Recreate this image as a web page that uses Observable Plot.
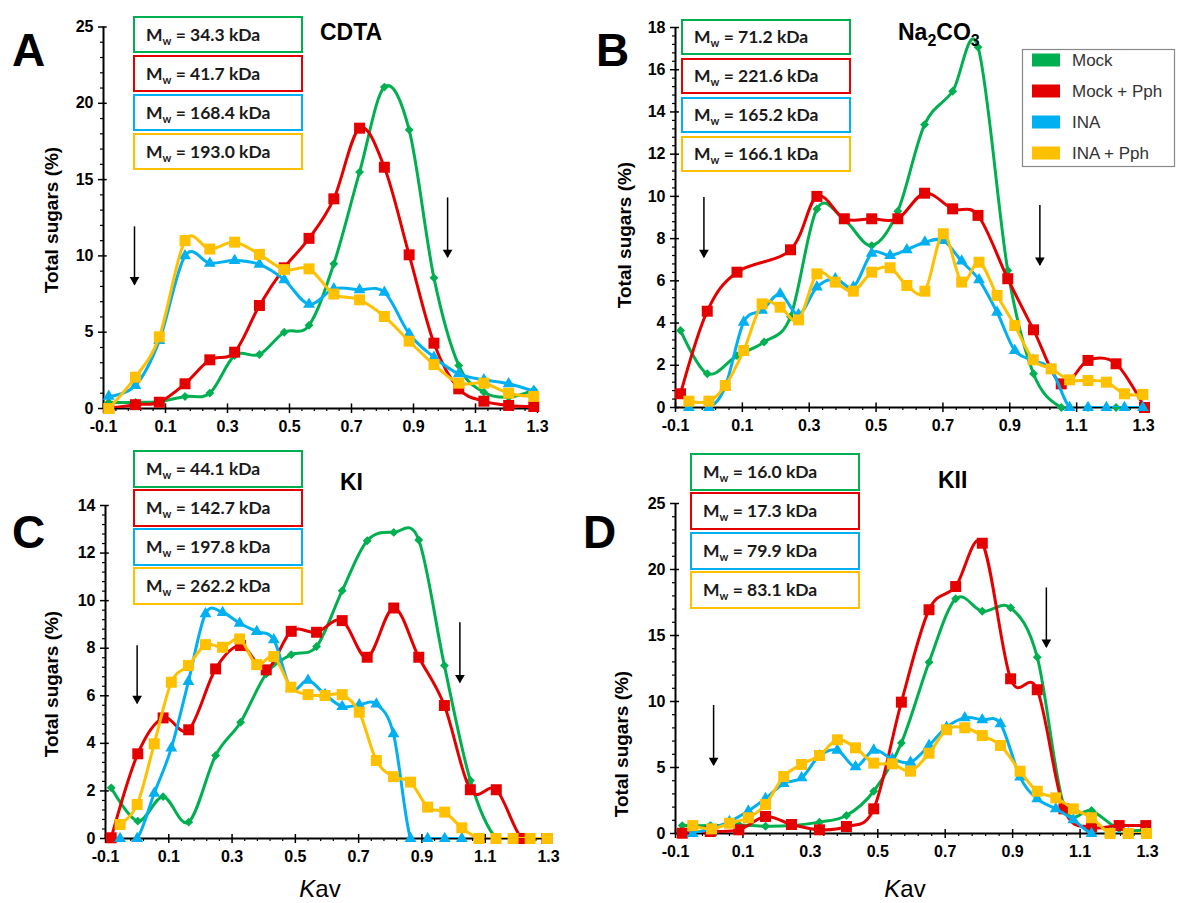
<!DOCTYPE html>
<html><head><meta charset="utf-8">
<script src="https://cdn.jsdelivr.net/npm/d3@7"></script>
<script src="https://cdn.jsdelivr.net/npm/@observablehq/plot@0.6"></script>
<style>
body{margin:0;background:#fff;}
#root{position:relative;width:1178px;height:903px;overflow:hidden;background:#fff;}
#root svg{position:absolute;overflow:visible;}
</style></head>
<body><div id="root"></div>
<script>
// ---------- data ----------
const seriesNames = ["Mock", "Mock + Pph", "INA", "INA + Pph"];
const colors = ["#00B050", "#E50000", "#00B0F0", "#FFC000"];
const xMajor = [-0.1, 0.1, 0.3, 0.5, 0.7, 0.9, 1.1, 1.3];

// Panel A (CDTA)
const aX = [-0.083, 0.003, 0.08, 0.163, 0.243, 0.323, 0.403, 0.483, 0.563, 0.643, 0.726, 0.806, 0.886, 0.966, 1.046, 1.127, 1.207, 1.288];
const aMock = [0.4, 0.4, 0.45, 0.79, 1.01, 3.47, 3.54, 5.0, 5.45, 9.48, 15.49, 21.06, 18.26, 8.56, 2.82, 1.07, 0.74, 1.22];
const aMockPph = [0, 0.25, 0.41, 1.62, 3.19, 3.69, 6.75, 9.22, 11.15, 13.74, 18.37, 15.81, 10.07, 4.28, 1.29, 0.48, 0.2, 0.13];
const aINA = [0.79, 1.5, 4.45, 10.0, 9.52, 9.7, 9.44, 8.43, 6.83, 7.84, 7.78, 7.62, 4.9, 3.36, 2.27, 1.88, 1.62, 1.13];
const aINAPph = [0, 2.05, 4.7, 11.0, 10.45, 10.9, 10.1, 9.1, 9.15, 7.5, 7.12, 6.03, 4.41, 2.88, 1.66, 1.66, 1.0, 0.79];
const aMw = ["34.3", "41.7", "168.4", "193.0"];
const aYTicks = [0, 5, 10, 15, 20, 25];

// Panel B (Na2CO3)
const bX1 = [-0.085, -0.005, 0.084, 0.165, 0.244, 0.323, 0.405, 0.487, 0.565, 0.645, 0.729, 0.805, 0.894, 0.971, 1.054, 1.134, 1.218, 1.303];
const bMock = [3.65, 1.6, 2.46, 3.1, 4.3, 9.4, 8.89, 7.67, 9.3, 13.4, 14.98, 17.07, 6.49, 1.6, 0, 0, 0, 0];
const bX2 = [-0.085, -0.005, 0.084, 0.244, 0.323, 0.405, 0.487, 0.565, 0.645, 0.729, 0.805, 0.894, 0.971, 1.054, 1.134, 1.218, 1.303];
const bMockPph = [0.65, 4.56, 6.41, 7.47, 10.0, 8.94, 8.94, 8.94, 10.15, 9.41, 9.1, 6.1, 3.68, 1.12, 2.23, 2.07, 0];
const bX3 = [-0.06, 0.0, 0.049, 0.104, 0.159, 0.213, 0.268, 0.323, 0.378, 0.432, 0.487, 0.542, 0.592, 0.646, 0.701, 0.756, 0.808, 0.862, 0.915, 0.97, 1.024, 1.079, 1.134, 1.189, 1.243, 1.298];
const bINA = [0, 0, 1.0, 4.04, 4.6, 5.38, 4.4, 5.7, 6.1, 5.7, 7.3, 7.2, 7.47, 7.83, 7.91, 6.93, 6.05, 4.51, 2.7, 2.23, 1.8, 0, 0, 0, 0, 0];
const bINAPph = [0.3, 0.3, 1.04, 2.7, 4.91, 4.75, 4.15, 6.33, 5.94, 5.51, 6.41, 6.62, 5.78, 5.51, 8.23, 5.94, 6.88, 5.31, 3.88, 2.26, 1.83, 1.31, 1.28, 1.2, 0.65, 0.62];
const bMw = ["71.2", "221.6", "165.2", "166.1"];
const bYTicks = [0, 2, 4, 6, 8, 10, 12, 14, 16, 18];

// Panel C (KI)
const cX1 = [-0.082, 0.002, 0.082, 0.163, 0.248, 0.327, 0.408, 0.487, 0.567, 0.648, 0.727, 0.811, 0.89, 0.971, 1.053, 1.135, 1.216, 1.295];
const cMock = [2.13, 0.73, 1.76, 0.69, 3.49, 4.89, 6.92, 7.73, 8.07, 10.42, 12.52, 12.87, 12.55, 7.27, 2.44, 0, 0, 0];
const cMockPph = [0.03, 3.56, 5.07, 4.57, 7.13, 8.11, 7.09, 8.71, 8.67, 9.16, 7.62, 9.69, 7.62, 5.59, 2.05, 2.05, 0, 0];
const cX2 = [-0.054, 0, 0.054, 0.108, 0.162, 0.216, 0.27, 0.324, 0.378, 0.432, 0.486, 0.54, 0.594, 0.648, 0.702, 0.756, 0.81, 0.864, 0.918, 0.972, 1.026, 1.08, 1.134, 1.188, 1.242, 1.296];
const cINA = [0, 0, 1.9, 3.8, 6.6, 9.45, 9.5, 9.05, 8.7, 8.35, 6.3, 6.65, 6.05, 5.55, 5.62, 5.65, 4.4, 0, 0, 0, 0];
const cINAPph = [0.59, 1.43, 3.98, 6.57, 7.27, 8.15, 8.04, 8.39, 7.31, 7.65, 6.36, 6.05, 6.01, 6.05, 5.31, 3.28, 2.6, 2.37, 1.32, 1.11, 0.45, 0, 0, 0, 0, 0];
const cMw = ["44.1", "142.7", "197.8", "262.2"];
const cYTicks = [0, 2, 4, 6, 8, 10, 12, 14];

// Panel D (KII)
const dX1 = [-0.08, 0.003, 0.088, 0.167, 0.244, 0.327, 0.407, 0.488, 0.57, 0.652, 0.731, 0.81, 0.894, 0.973, 1.052, 1.134, 1.216, 1.295];
const dMock = [0.6, 0.6, 0.65, 0.55, 0.6, 0.86, 1.36, 3.2, 6.86, 12.98, 17.78, 16.84, 17.1, 13.36, 2.12, 1.74, 0.35, 0.28];
const dMockPph = [0.02, 0.15, 0.28, 1.29, 0.68, 0.28, 0.53, 1.87, 9.95, 16.95, 18.71, 21.99, 11.72, 10.89, 1.87, 0.48, 0.6, 0.6];
const dX2 = [-0.049, 0.007, 0.06, 0.116, 0.167, 0.221, 0.274, 0.327, 0.38, 0.434, 0.488, 0.543, 0.597, 0.652, 0.704, 0.758, 0.81, 0.864, 0.922, 0.973, 1.028, 1.08, 1.134, 1.189, 1.243, 1.297];
const dINA = [0, 0.4, 0.9, 1.7, 2.65, 3.79, 4.22, 5.89, 6.31, 5.05, 6.31, 5.66, 5.4, 6.67, 8.05, 8.76, 8.61, 8.31, 4.27, 2.63, 1.87, 1.04, 0, 0, 0, 0];
const dINAPph = [0.6, 0.35, 0.78, 1.19, 2.2, 4.32, 5.23, 5.91, 7.1, 6.49, 5.33, 5.28, 4.72, 6.08, 7.86, 8.01, 7.42, 6.67, 4.72, 3.2, 2.7, 1.87, 1.19, 0, 0, 0];
const dMw = ["16.0", "17.3", "79.9", "83.1"];
const dYTicks = [0, 5, 10, 15, 20, 25];

// V0 / Vt arrows (Kav, top value, tip value)
const aArrows = [{x: 0, y1: 11.9, y2: 8.1}, {x: 1.01, y1: 13.8, y2: 9.9}];
const bArrows = [{x: -0.015, y1: 9.95, y2: 7.1}, {x: 0.99, y1: 9.57, y2: 6.73}];
const cArrows = [{x: 0, y1: 8.1, y2: 5.67}, {x: 1.02, y1: 9.07, y2: 6.55}];
const dArrows = [{x: 0.013, y1: 9.7, y2: 5.15}, {x: 1.0, y1: 18.6, y2: 14.1}];

// ---------- drawing ----------
const root = document.getElementById("root");
const symbols = ["diamond2", "square", "triangle", "square"];
const radii = [4, 6.2, 4.4, 6.2];
const xMinor = d3.range(0, 36).filter(i => i % 5 !== 0).map(i => -0.1 + i * 0.04);

function panel(cfg) {
  const ymax = cfg.yTicks[cfg.yTicks.length - 1];
  const yMinor = d3.range(0, Math.round(ymax / cfg.minor) + 1).map(i => i * cfg.minor)
    .filter(v => cfg.yTicks.every(t => Math.abs(t - v) > 1e-6));
  const marks = [
    Plot.axisY({ticks: yMinor, tickSize: 3, tickFormat: () => "", label: null, strokeWidth: 1.2}),
    Plot.axisY({ticks: cfg.yTicks, tickSize: 5, tickPadding: 5, tickFormat: d => String(d), label: null, strokeWidth: 1.5}),
    Plot.axisX({ticks: xMinor, tickSize: 3, tickFormat: () => "", label: null, strokeWidth: 1.2}),
    Plot.axisX({ticks: xMajor, tickSize: 5, tickPadding: 7, tickFormat: d => d.toFixed(1), label: null, strokeWidth: 1.5}),
    Plot.ruleX(xMajor, {x: d => d, y1: 0, y2: ymax * 0.012, strokeWidth: 1.5}),
    Plot.ruleY(cfg.yTicks, {y: d => d, x1: -0.1, x2: -0.088, strokeWidth: 1.5}),
    Plot.ruleY([0], {strokeWidth: 2}),
    Plot.ruleX([-0.1], {strokeWidth: 2})
  ];
  cfg.series.forEach(([xs, ys], k) => {
    const data = xs.map((x, i) => ({x, y: ys[i]})).filter(d => d.y != null);
    marks.push(Plot.line(data, {x: "x", y: "y", stroke: colors[k], strokeWidth: 3, curve: "cardinal", tension: 0, clip: "frame"}));
    marks.push(Plot.dot(data, {x: "x", y: "y", symbol: symbols[k], r: radii[k], fill: colors[k], stroke: "none"}));
  });
  marks.push(Plot.ruleX(cfg.arrows, {x: "x", y1: "y1", y2: "y2", stroke: "black", strokeWidth: 1.5}));
  marks.push(Plot.dot(cfg.arrows, {x: "x", y: "y2", symbol: "triangle", r: 3.6, rotate: 180, fill: "black", stroke: "none", dy: -5}));
  const svg = Plot.plot({
    width: cfg.w, height: cfg.h,
    marginLeft: cfg.ml, marginRight: cfg.mr, marginTop: cfg.mt, marginBottom: cfg.mb,
    x: {domain: [-0.1, 1.3]},
    y: {domain: [0, ymax]},
    style: {fontFamily: "'Liberation Sans', Arial, sans-serif", fontSize: "16px", fontWeight: "bold", color: "#000", background: "transparent", overflow: "visible"},
    marks
  });
  svg.style.left = cfg.left + "px";
  svg.style.top = cfg.top + "px";
  root.appendChild(svg);
}

panel({left: 0, top: 0, w: 580, h: 440, ml: 103, mr: 43, mt: 26.5, mb: 32, yTicks: aYTicks, minor: 1,
  series: [[aX, aMock], [aX, aMockPph], [aX, aINA], [aX, aINAPph]], arrows: aArrows});
panel({left: 590, top: 0, w: 588, h: 440, ml: 85, mr: 35, mt: 27, mb: 33, yTicks: bYTicks, minor: 0.4,
  series: [[bX1, bMock], [bX2, bMockPph], [bX3, bINA], [bX3, bINAPph]], arrows: bArrows});
panel({left: 0, top: 460, w: 580, h: 443, ml: 105, mr: 32, mt: 45, mb: 65, yTicks: cYTicks, minor: 0.4,
  series: [[cX1, cMock], [cX1, cMockPph], [cX2, cINA], [cX2, cINAPph]], arrows: cArrows});
panel({left: 590, top: 460, w: 588, h: 443, ml: 85, mr: 31, mt: 43, mb: 70, yTicks: dYTicks, minor: 1,
  series: [[dX1, dMock], [dX1, dMockPph], [dX2, dINA], [dX2, dINAPph]], arrows: dArrows});

// ---------- annotations overlay ----------
const ov = d3.select(root).append("svg").attr("width", 1178).attr("height", 903)
  .style("left", "0px").style("top", "0px")
  .style("font-family", "'Liberation Sans', Arial, sans-serif");

// panel letters
[["A", 12, 66], ["B", 596, 66], ["C", 12, 548], ["D", 583, 548]].forEach(([t, x, y]) =>
  ov.append("text").attr("x", x).attr("y", y).attr("font-size", 46).attr("font-weight", "bold").text(t));

// titles
ov.append("text").attr("x", 320).attr("y", 40).attr("font-size", 23).attr("font-weight", "bold").text("CDTA");
const na = ov.append("text").attr("x", 898).attr("y", 40).attr("font-size", 23).attr("font-weight", "bold");
na.append("tspan").text("Na");
na.append("tspan").attr("dy", 6).attr("font-size", 16).text("2");
na.append("tspan").attr("dy", -6).text("CO");
na.append("tspan").attr("dy", 6).attr("font-size", 16).text("3");
ov.append("text").attr("x", 340).attr("y", 490).attr("font-size", 23).attr("font-weight", "bold").text("KI");
ov.append("text").attr("x", 938).attr("y", 488).attr("font-size", 23).attr("font-weight", "bold").text("KII");

// y-axis titles
[[58, 220], [631, 235], [58, 684], [628, 744]].forEach(([x, y]) =>
  ov.append("text").attr("transform", `translate(${x},${y}) rotate(-90)`).attr("text-anchor", "middle")
    .attr("font-size", 19).attr("font-weight", "bold").text("Total sugars (%)"));

// x-axis titles
[320, 905].forEach(x => {
  const t = ov.append("text").attr("x", x).attr("y", 897).attr("text-anchor", "middle").attr("font-size", 24);
  t.append("tspan").attr("font-style", "italic").text("K");
  t.append("tspan").text("av");
});

// Mw boxes
function mwBoxes(values, left, tops, h) {
  values.forEach((v, k) => {
    ov.append("rect").attr("x", left + 1).attr("y", tops[k] + 1).attr("width", 168).attr("height", h - 2)
      .attr("fill", "white").attr("stroke", colors[k]).attr("stroke-width", 2);
    const t = ov.append("text").attr("x", left + 13).attr("y", tops[k] + h / 2 + 6)
      .attr("font-family", "Lato, 'Open Sans', sans-serif").attr("font-weight", "bold").attr("font-size", 17.5).attr("fill", "#1a1a1a");
    t.append("tspan").text("M");
    t.append("tspan").attr("dy", 4).attr("font-size", 11).text("w");
    t.append("tspan").attr("dy", -4).text(` = ${v} kDa`);
  });
}
mwBoxes(aMw, 133, [16, 55, 94, 133], 37);
mwBoxes(bMw, 681, [19, 58, 97, 136], 36);
mwBoxes(cMw, 133, [450, 489, 528, 567], 38);
mwBoxes(dMw, 690, [453, 492, 532, 571], 38);

// legend
ov.append("rect").attr("x", 1022.5).attr("y", 49.5).attr("width", 152).attr("height", 117)
  .attr("fill", "white").attr("stroke", "#888").attr("stroke-width", 1.2);
seriesNames.forEach((s, k) => {
  const cy = 60 + k * 31;
  ov.append("rect").attr("x", 1032).attr("y", cy - 6.5).attr("width", 28).attr("height", 13).attr("fill", colors[k]);
  ov.append("text").attr("x", 1072).attr("y", cy + 6).attr("font-size", 17).attr("fill", "#333").text(s);
});
</script>
</body></html>
